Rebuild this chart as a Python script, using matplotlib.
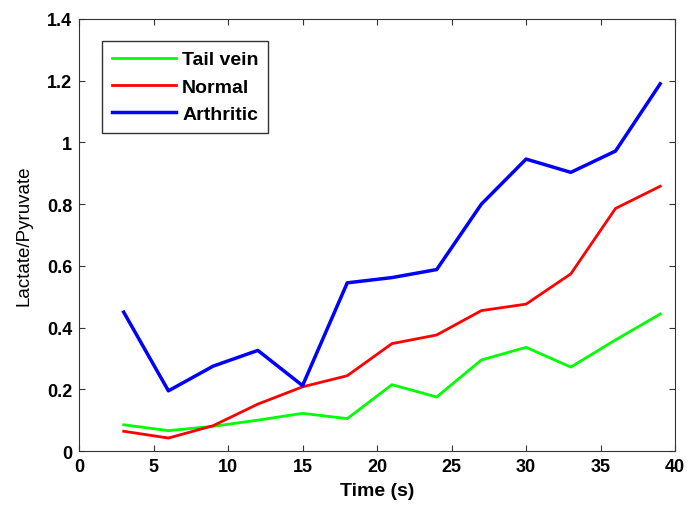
import matplotlib
matplotlib.use('Agg')
import matplotlib.pyplot as plt

# time points (s)
time = [3, 6, 9, 12, 15, 18, 21, 24, 27, 30, 33, 36, 39]

# lactate/pyruvate ratios
tail_vein = [0.085, 0.066, 0.08, 0.10, 0.122, 0.105, 0.215, 0.175, 0.295, 0.336, 0.272, 0.36, 0.444]
normal = [0.064, 0.042, 0.082, 0.152, 0.208, 0.244, 0.348, 0.376, 0.455, 0.476, 0.574, 0.786, 0.858]
arthritic = [0.45, 0.195, 0.275, 0.326, 0.212, 0.545, 0.562, 0.588, 0.80, 0.946, 0.903, 0.972, 1.19]

plt.rcParams['font.family'] = ['Liberation Sans', 'DejaVu Sans']
plt.rcParams['font.weight'] = 'bold'

fig = plt.figure(figsize=(6.96, 5.06), dpi=100)
ax = fig.add_axes([0.1135, 0.1067, 0.8565, 0.8538])

ax.plot(time, tail_vein, color='#00ff00', lw=2, label='Tail vein')
ax.plot(time, normal, color='#ff0000', lw=2, label='Normal')
ax.plot(time, arthritic, color='#0000ff', lw=2.5, label='Arthritic')

ax.set_xlim(0, 40)
ax.set_ylim(0, 1.4)
ax.set_xticks(range(0, 41, 5))
ax.set_yticks([0, 0.2, 0.4, 0.6, 0.8, 1.0, 1.2, 1.4])
ax.set_yticklabels(['0', '0.2', '0.4', '0.6', '0.8', '1', '1.2', '1.4'])
ax.tick_params(direction='in', top=True, right=True, labelsize=13, length=4,
               colors='#333333', labelcolor='black', pad=5)
for s in ax.spines.values():
    s.set_color('#333333')

ax.set_xlabel('Time (s)', fontsize=14, fontweight='bold', labelpad=5)
ax.set_ylabel('Lactate/Pyruvate', fontsize=13.5, fontweight='normal', labelpad=10)

leg = ax.legend(loc='upper left', bbox_to_anchor=(0.0386, 0.949), borderaxespad=0,
                fontsize=14, fancybox=False, edgecolor='#333333', handlelength=3.3,
                handletextpad=0.32, borderpad=0.5, labelspacing=0.5, framealpha=1)
leg.get_frame().set_linewidth(1)

fig.savefig('out.png', dpi=100)
